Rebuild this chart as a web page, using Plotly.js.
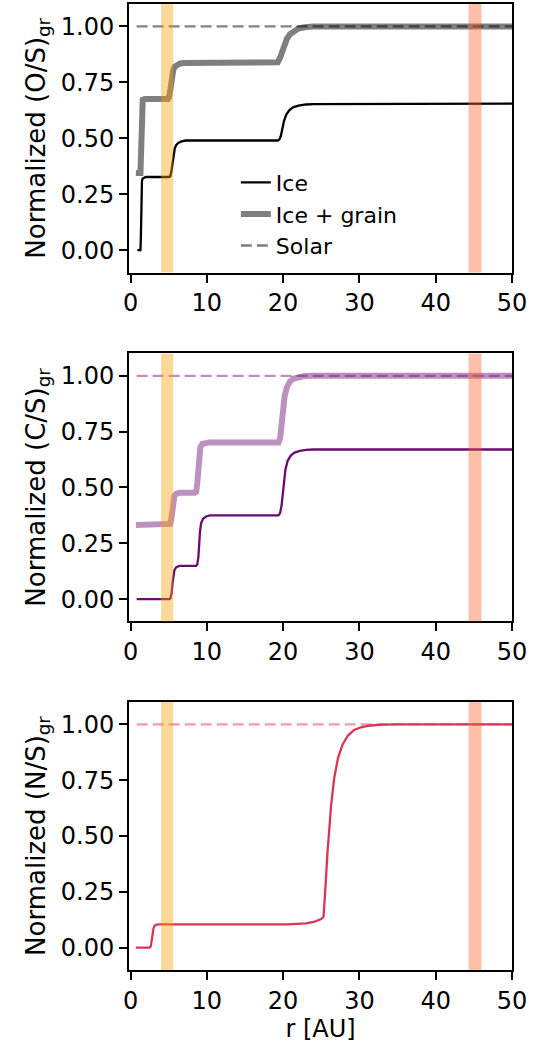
<!DOCTYPE html>
<html>
<head>
<meta charset="utf-8">
<script src="https://cdn.plot.ly/plotly-3.0.1.min.js"></script>
<style>html,body{margin:0;padding:0;background:#fff;}#chart{width:546px;height:1051px;}</style>
</head>
<body>
<div id="chart"></div>
<script>
// ---- Data ----
// Panel 1: O/S
const rIceO   = [0.9, 1.3, 1.35, 1.4, 1.45, 1.5, 1.6, 1.8, 2.0, 5.0, 5.2, 5.35, 5.5, 5.65, 5.8, 6.0, 6.3, 6.7, 7.2, 19.3, 19.5, 19.7, 19.9, 20.1, 20.4, 20.8, 21.3, 22.0, 23.0, 24.0, 50];
const yIceO   = [0, 0, 0.05, 0.2, 0.29, 0.31, 0.32, 0.325, 0.327, 0.327, 0.33, 0.35, 0.39, 0.43, 0.455, 0.47, 0.48, 0.486, 0.49, 0.49, 0.495, 0.51, 0.54, 0.575, 0.605, 0.625, 0.638, 0.646, 0.651, 0.653, 0.655];
const rGrainO = [0.7, 1.3, 1.35, 1.4, 1.45, 1.5, 1.6, 1.8, 2.0, 4.9, 5.0, 5.15, 5.3, 5.45, 5.6, 5.8, 6.1, 6.5, 7.0, 19.0, 19.3, 19.6, 19.9, 20.2, 20.5, 20.9, 21.4, 22.0, 22.8, 24.0, 50];
const yGrainO = [0.345, 0.345, 0.4, 0.55, 0.64, 0.665, 0.672, 0.675, 0.676, 0.676, 0.68, 0.7, 0.74, 0.78, 0.805, 0.82, 0.83, 0.834, 0.836, 0.836, 0.84, 0.86, 0.89, 0.92, 0.945, 0.965, 0.98, 0.99, 0.996, 0.999, 1.0];
// Panel 2: C/S
const rIceC   = [0.8, 5.1, 5.25, 5.4, 5.5, 5.6, 5.75, 6.0, 6.4, 8.6, 8.75, 8.9, 9.0, 9.1, 9.25, 9.5, 9.9, 10.4, 19.4, 19.6, 19.8, 19.95, 20.1, 20.3, 20.6, 21.0, 21.5, 22.2, 23.0, 24.0, 50];
const yIceC   = [0, 0, 0.005, 0.03, 0.07, 0.105, 0.13, 0.143, 0.149, 0.149, 0.155, 0.19, 0.25, 0.3, 0.34, 0.36, 0.37, 0.375, 0.375, 0.385, 0.42, 0.47, 0.53, 0.58, 0.62, 0.643, 0.656, 0.664, 0.668, 0.67, 0.67];
const rGrainC = [0.7, 5.0, 5.2, 5.35, 5.5, 5.6, 5.75, 6.0, 6.4, 8.4, 8.6, 8.75, 8.9, 9.0, 9.15, 9.4, 9.8, 10.3, 19.4, 19.6, 19.8, 20.0, 20.2, 20.5, 20.9, 21.4, 22.0, 22.8, 24.0, 50];
const yGrainC = [0.332, 0.332, 0.337, 0.36, 0.41, 0.44, 0.462, 0.472, 0.476, 0.476, 0.48, 0.52, 0.6, 0.65, 0.68, 0.695, 0.7, 0.702, 0.702, 0.72, 0.78, 0.86, 0.91, 0.95, 0.975, 0.988, 0.995, 0.999, 1.0, 1.0];
// Panel 3: N/S
const rIceN   = [0.7, 2.5, 2.65, 2.8, 2.9, 3.0, 3.15, 3.4, 3.8, 20.5, 22.0, 23.0, 24.0, 24.6, 25.0, 25.3, 25.45, 25.6, 25.8, 26.0, 26.3, 26.7, 27.2, 27.8, 28.5, 29.3, 30.3, 31.5, 33.0, 35.0, 50];
const yIceN   = [0, 0, 0.005, 0.03, 0.06, 0.085, 0.098, 0.103, 0.104, 0.104, 0.106, 0.109, 0.115, 0.121, 0.128, 0.138, 0.2, 0.3, 0.42, 0.52, 0.64, 0.76, 0.85, 0.91, 0.95, 0.975, 0.988, 0.995, 0.999, 1.0, 1.0];
// Solar reference
const rSolar = [0.8, 50];
const ySolar = [1.0, 1.0];
// Shaded bands [start, end] in AU
const bandJupiter = [4.0, 5.6];
const bandOuter   = [44.3, 46.0];
// Tick labels
const xTicks = [0, 10, 20, 30, 40, 50];
const yTicks = [0, 0.25, 0.5, 0.75, 1.0];
const yTitles = ['Normalized (O/S)<sub>gr</sub>', 'Normalized (C/S)<sub>gr</sub>', 'Normalized (N/S)<sub>gr</sub>'];
const xTitle = 'r [AU]';
const legendNames = ['Ice', 'Ice + grain', 'Solar'];

// ---- Styling ----
const FONT = 'DejaVu Sans, sans-serif';
const colors = [
  {solid: 'rgb(0,0,0)', light: 'rgba(0,0,0,0.5)'},
  {solid: 'rgb(108,10,112)', light: 'rgba(108,10,112,0.45)'},
  {solid: 'rgb(218,52,86)', light: 'rgba(218,52,86,0.5)'}
];
const DASH = '11px,5px';

const traces = [];
function addPanel(i, rIce, yIce, rGrain, yGrain) {
  const xa = i === 0 ? 'x' : 'x' + (i + 1);
  const ya = i === 0 ? 'y' : 'y' + (i + 1);
  const c = colors[i];
  const leg = i === 0;
  traces.push({x: rIce, y: yIce, xaxis: xa, yaxis: ya, mode: 'lines', name: legendNames[0],
    line: {color: c.solid, width: 2.3}, showlegend: leg});
  if (rGrain) {
    traces.push({x: rGrain, y: yGrain, xaxis: xa, yaxis: ya, mode: 'lines', name: legendNames[1],
      line: {color: c.light, width: 6}, showlegend: leg});
  }
  traces.push({x: rSolar, y: ySolar, xaxis: xa, yaxis: ya, mode: 'lines', name: legendNames[2],
    line: {color: c.light, width: 2.3, dash: DASH}, showlegend: leg});
}
addPanel(0, rIceO, yIceO, rGrainO, yGrainO);
addPanel(1, rIceC, yIceC, rGrainC, yGrainC);
addPanel(2, rIceN, yIceN, null, null);

const domains = [[0.7220, 1.0], [0.3608, 0.6382], [0.0, 0.2774]];
const layout = {
  width: 546, height: 1051,
  margin: {l: 129, r: 34, t: 4, b: 81},
  paper_bgcolor: '#fff', plot_bgcolor: '#fff',
  font: {family: FONT, color: '#000', size: 24},
  showlegend: true,
  legend: {x: 0.279, y: 0.7826, xanchor: 'left', yanchor: 'middle', bgcolor: 'rgba(0,0,0,0)',
    font: {family: FONT, size: 22, color: '#000'}, itemwidth: 30, tracegroupgap: 0},
  shapes: []
};
const bands = [{b: bandJupiter, col: 'rgba(250,160,0,0.4)'}, {b: bandOuter, col: 'rgba(250,95,40,0.4)'}];
for (let i = 0; i < 3; i++) {
  const sx = i === 0 ? '' : String(i + 1);
  const axisCommon = {showline: true, linecolor: '#000', linewidth: 2, mirror: true,
    ticks: 'outside', ticklen: 8, tickwidth: 2, tickcolor: '#000', showgrid: false, zeroline: false,
    tickfont: {family: FONT, size: 24, color: '#000'}};
  const xa = Object.assign({}, axisCommon, {
    domain: [0, 1], anchor: 'y' + sx, range: [-0.2, 50], tickvals: xTicks, ticktext: xTicks.map(String)
  });
  if (i === 2) xa.title = {text: xTitle, font: {family: FONT, size: 24, color: '#000'}, standoff: 4};
  layout['xaxis' + sx] = xa;
  layout['yaxis' + sx] = Object.assign({}, axisCommon, {
    domain: domains[i], anchor: 'x' + sx, range: [-0.1, 1.1], tickvals: yTicks,
    ticktext: yTicks.map(v => v.toFixed(2)),
    title: {text: yTitles[i], font: {family: FONT, size: 26, color: '#000'}, standoff: 8}
  });
  for (const bd of bands) {
    layout.shapes.push({type: 'rect', xref: 'x' + sx, yref: 'y' + sx + ' domain',
      x0: bd.b[0], x1: bd.b[1], y0: 0, y1: 1, fillcolor: bd.col, line: {width: 0}, layer: 'above'});
  }
}
Plotly.newPlot('chart', traces, layout, {staticPlot: true, displayModeBar: false});
</script>
</body>
</html>
